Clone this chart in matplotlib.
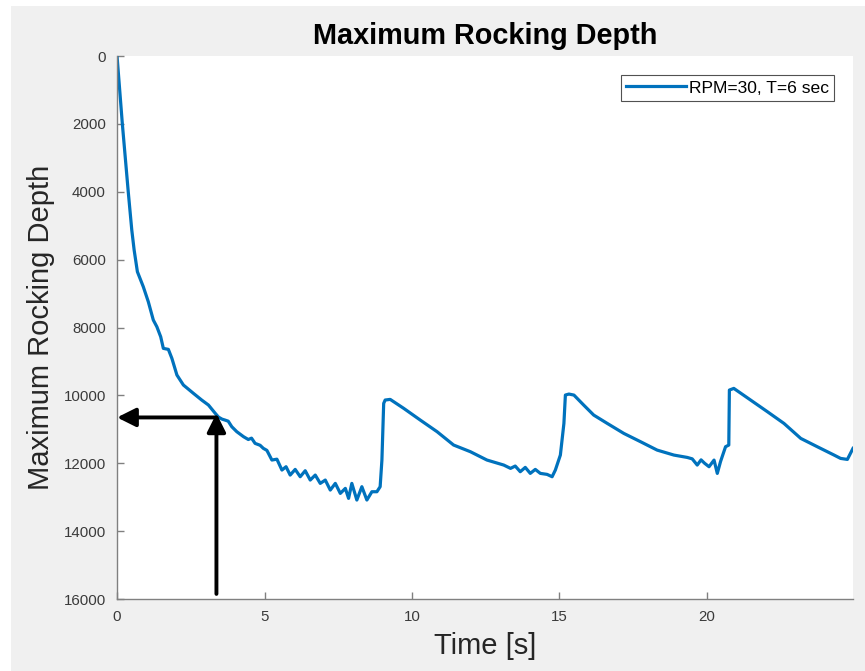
import matplotlib
matplotlib.use("Agg")
import matplotlib.pyplot as plt
from matplotlib.patches import Rectangle

# Time samples [s] and corresponding maximum rocking depth
time_s = [
    0.00, 0.18, 0.38, 0.50, 0.58, 0.69, 0.89, 1.06, 1.23, 1.35, 1.48, 1.57,
    1.74, 1.86, 2.03, 2.25, 2.59, 2.87, 3.10, 3.33, 3.44, 3.56, 3.66, 3.77,
    3.89, 4.06, 4.29, 4.45, 4.56, 4.68, 4.85, 4.96, 5.08, 5.25, 5.42, 5.59,
    5.73, 5.87, 6.04, 6.21, 6.38, 6.55, 6.72, 6.89, 7.06, 7.23, 7.40, 7.57,
    7.74, 7.85, 7.96, 8.13, 8.30, 8.47, 8.64, 8.81, 8.92, 8.98, 9.04, 9.09,
    9.26, 9.38, 9.72, 10.28, 10.85, 11.41, 11.98, 12.54, 13.11, 13.34, 13.50,
    13.67, 13.84, 14.01, 14.18, 14.35, 14.58, 14.75, 14.86, 15.03, 15.15,
    15.20, 15.32, 15.49, 15.82, 16.16, 16.62, 17.18, 17.75, 18.31, 18.88,
    19.33, 19.50, 19.67, 19.80, 19.92, 20.07, 20.24, 20.35, 20.46, 20.63,
    20.74, 20.76, 20.91, 21.48, 22.05, 22.61, 23.18, 23.74, 24.31, 24.53,
    24.76, 24.95,
]
depth = [
    0, 2000, 4000, 5128, 5717, 6356, 6798, 7240, 7780, 7977, 8272, 8615,
    8644, 8910, 9400, 9695, 9940, 10137, 10285, 10530, 10640, 10700, 10727, 10760,
    10923, 11070, 11218, 11300, 11260, 11414, 11470, 11561, 11620, 11905, 11880, 12200,
    12102, 12348, 12181, 12397, 12220, 12495, 12348, 12593, 12495, 12790, 12593, 12888,
    12740, 13035, 12593, 13084, 12691, 13084, 12839, 12839, 12691, 11905, 10236, 10137,
    10118, 10187, 10383, 10727, 11070, 11463, 11660, 11905, 12053, 12151, 12082,
    12249, 12122, 12298, 12181, 12298, 12328, 12397, 12200, 11758, 10825,
    9990, 9961, 9991, 10285, 10580, 10826, 11120, 11366, 11612, 11759,
    11828, 11870, 12053, 11900, 12000, 12102, 11906, 12299, 11950, 11513,
    11464, 9843, 9794, 10138, 10482, 10826, 11268, 11513, 11759, 11857,
    11887, 11562,
]

y_ticks = [0, 2000, 4000, 6000, 8000, 10000, 12000, 14000, 16000]
x_ticks = [0, 5, 10, 15, 20]

# Reading guide: time and depth at which the arrows meet the curve
guide_time = 3.37
guide_depth = 10650
guide_start = 15850

plt.rcParams["font.family"] = ["Liberation Sans", "DejaVu Sans"]

fig = plt.figure(figsize=(8.65, 6.71), dpi=100, facecolor="#f0f0f0")

# thin white margin along the top and left edges of the window
fig.patches.append(Rectangle((0, 0), 11 / 865, 1, transform=fig.transFigure,
                             facecolor="white", edgecolor="none", zorder=-10))
fig.patches.append(Rectangle((0, 1 - 6 / 671), 1, 6 / 671, transform=fig.transFigure,
                             facecolor="white", edgecolor="none", zorder=-10))

ax = fig.add_axes([0.1353, 0.1073, 0.8508, 0.8092])
ax.set_facecolor("white")

ax.plot(time_s, depth, color="#0072BD", lw=2.3, label="RPM=30, T=6 sec",
        solid_joinstyle="round")

ax.set_xlim(0, 24.95)
ax.set_ylim(16000, 0)
ax.set_xticks(x_ticks)
ax.set_yticks(y_ticks)

for side in ("top", "right"):
    ax.spines[side].set_visible(False)
for side in ("left", "bottom"):
    ax.spines[side].set_color("#808080")
    ax.spines[side].set_linewidth(1.0)

ax.tick_params(direction="in", length=5, width=1.0, color="#808080",
               labelcolor="#3a3a3a", labelsize=10.8, pad=8)

ax.set_title("Maximum Rocking Depth", fontsize=20.8, fontweight="bold",
             color="black", pad=9)
ax.set_xlabel("Time [s]", fontsize=21, color="#262626", labelpad=6)
ax.set_ylabel("Maximum Rocking Depth", fontsize=21, color="#262626", labelpad=6)

arrow_style = dict(arrowstyle="-|>,head_length=0.8,head_width=0.4",
                   color="black", lw=2.8, mutation_scale=14,
                   shrinkA=0, shrinkB=0)
ax.annotate("", xy=(guide_time, guide_depth - 120), xytext=(guide_time, guide_start),
            arrowprops=arrow_style)
ax.annotate("", xy=(0.0, guide_depth), xytext=(guide_time, guide_depth),
            arrowprops=arrow_style)

leg = ax.legend(loc="upper right", bbox_to_anchor=(0.974, 0.965),
                fontsize=12.6, frameon=True, fancybox=False, handlelength=3.4,
                borderpad=0.3, handletextpad=0.15, borderaxespad=0)
leg.get_frame().set_edgecolor("#262626")
leg.get_frame().set_linewidth(0.8)

fig.savefig("out.png", dpi=100, facecolor=fig.get_facecolor())
